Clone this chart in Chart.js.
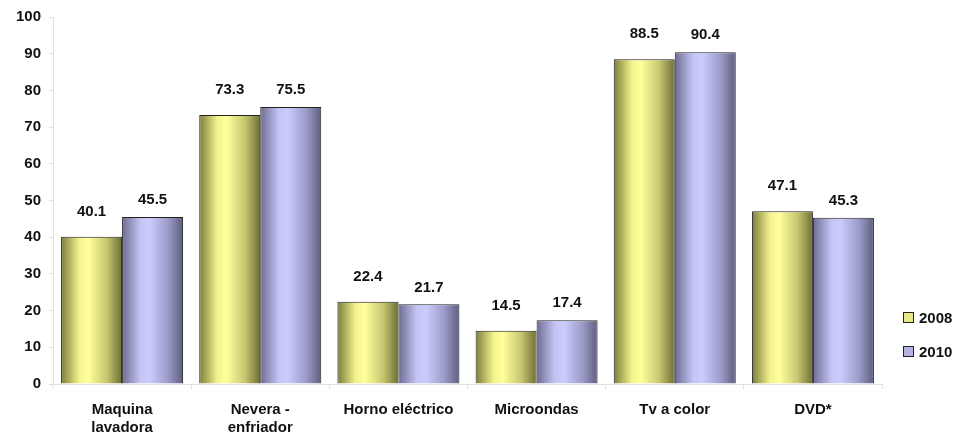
<!DOCTYPE html>
<html>
<head>
<meta charset="utf-8">
<script src="https://cdn.jsdelivr.net/npm/chart.js@4.4.1/dist/chart.umd.min.js"></script>
<style>
  html, body { margin: 0; padding: 0; background: #fff; }
  #wrap { width: 966px; height: 439px; }
</style>
</head>
<body>
<div id="wrap"><canvas id="chart"></canvas></div>
<script>
const categories = [['Maquina', 'lavadora'], ['Nevera -', 'enfriador'], 'Horno eléctrico', 'Microondas', 'Tv a color', 'DVD*'];
const years = ['2008', '2010'];
const values2008 = [40.1, 73.3, 22.4, 14.5, 88.5, 47.1];
const values2010 = [45.5, 75.5, 21.7, 17.4, 90.4, 45.3];
const yMin = 0;
const yMax = 100;
const yStep = 10;

const FONT = "'Liberation Sans', Arial, sans-serif";
const catPct = 0.883;

const yellowStops = [[0, '#7c7c3a'], [0.3, '#f4f48e'], [0.45, '#ffff9c'], [0.75, '#c6c670'], [1, '#6d6d34']];
const purpleStops = [[0, '#6c6c92'], [0.3, '#c4c4f4'], [0.45, '#cbcbff'], [0.75, '#9c9cc8'], [1, '#5e5e80']];
const legendFill = ['#e8e884', '#b4b4e4'];
const labelOffset = [25, 17];

// horizontal shading for each bar, worked out from the x scale
const barGradient = (stops) => {
    return (ctx) => {
        const chart = ctx.chart;
        const xs = chart.scales.x;
        if (!xs || ctx.type !== 'data') return stops[2][1];
        const w = xs.width / categories.length * catPct / 2;
        const c = xs.getPixelForValue(ctx.dataIndex);
        if (!isFinite(w) || !isFinite(c) || w <= 0) return stops[2][1];
        const left = ctx.datasetIndex === 0 ? c - w : c;
        const g = chart.ctx.createLinearGradient(left, 0, left + w, 0);
        stops.forEach(([o, col]) => g.addColorStop(o, col));
        return g;
    };
};

const valueLabels = {
    id: 'valueLabels',
    afterDatasetsDraw(chart) {
        const ctx = chart.ctx;
        ctx.save();
        ctx.font = `bold 15px ${FONT}`;
        ctx.fillStyle = '#111';
        ctx.textAlign = 'center';
        ctx.textBaseline = 'middle';
        chart.data.datasets.forEach((ds, di) => {
            chart.getDatasetMeta(di).data.forEach((bar, i) => {
                ctx.fillText(ds.data[i].toFixed(1), bar.x, bar.y - labelOffset[di]);
            });
        });
        ctx.restore();
    }
};

const sideLegend = {
    id: 'sideLegend',
    afterDraw(chart) {
        const ctx = chart.ctx;
        ctx.save();
        ctx.font = `bold 15px ${FONT}`;
        ctx.textBaseline = 'middle';
        ctx.textAlign = 'left';
        chart.data.datasets.forEach((ds, di) => {
            const y = 318 + di * 34;
            ctx.fillStyle = legendFill[di];
            ctx.fillRect(903.5, y - 5.5, 10, 10);
            ctx.strokeStyle = '#222';
            ctx.lineWidth = 1;
            ctx.strokeRect(903.5, y - 5.5, 10, 10);
            ctx.fillStyle = '#111';
            ctx.fillText(ds.label, 919, y + 1);
        });
        ctx.restore();
    }
};

new Chart(document.getElementById('chart'), {
    type: 'bar',
    data: {
        labels: categories,
        datasets: [
            {
                label: years[0],
                data: values2008,
                backgroundColor: barGradient(yellowStops),
                borderColor: '#222',
                borderWidth: 1
            },
            {
                label: years[1],
                data: values2010,
                backgroundColor: barGradient(purpleStops),
                borderColor: '#222',
                borderWidth: 1
            }
        ]
    },
    options: {
        responsive: true,
        maintainAspectRatio: false,
        animation: false,
        layout: { padding: { top: 15, right: 84, left: 0, bottom: 0 } },
        datasets: { bar: { categoryPercentage: catPct, barPercentage: 1 } },
        plugins: {
            legend: { display: false },
            tooltip: { enabled: false }
        },
        scales: {
            x: {
                afterFit: (scale) => { scale.height = 55; },
                grid: { drawOnChartArea: false, tickLength: 5, color: '#e2e2e2' },
                border: { color: '#e2e2e2' },
                ticks: {
                    color: '#111',
                    padding: 12,
                    maxRotation: 0,
                    autoSkip: false,
                    font: { family: FONT, size: 15, weight: 'bold', lineHeight: 1.2 }
                }
            },
            y: {
                min: yMin,
                max: yMax,
                afterFit: (scale) => { scale.width = 53; },
                grid: { drawOnChartArea: false, tickLength: 4, color: '#e2e2e2' },
                border: { color: '#e2e2e2' },
                ticks: {
                    stepSize: yStep,
                    color: '#111',
                    padding: 8,
                    font: { family: FONT, size: 15, weight: 'bold' }
                }
            }
        }
    },
    plugins: [valueLabels, sideLegend]
});
</script>
</body>
</html>
